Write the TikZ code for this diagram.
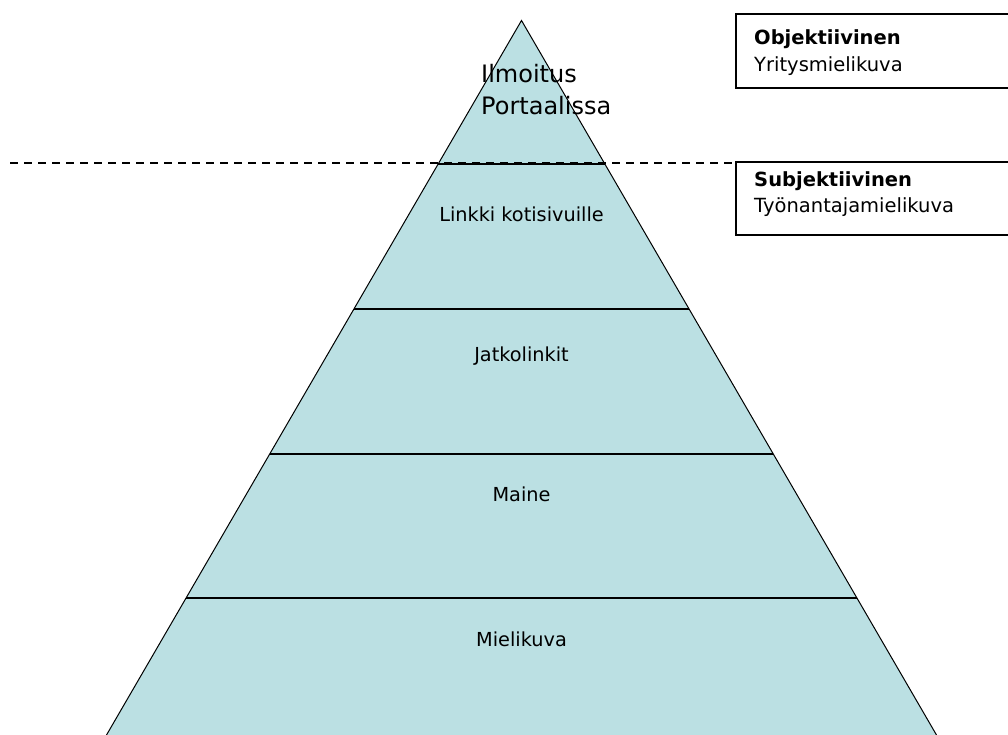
\documentclass[tikz,border=0pt]{standalone}
\usepackage{fontspec}
\setmainfont{DejaVu Sans}
\definecolor{pyrfill}{RGB}{187,224,227}
\tikzset{
  layer/.style={inner sep=0pt, anchor=base, font=\fontsize{19.3}{23}\selectfont},
  boxtext/.style={inner sep=0pt, anchor=base west, font=\fontsize{19.5}{23}\selectfont},
  infobox/.style={draw=black, line width=1.5pt},
}
\begin{document}
\begin{tikzpicture}[x=1pt,y=-1pt]
    \clip (0,0) rectangle (1008,735);
    % pyramid
    \coordinate (top) at (521.5,20.5);
    \coordinate (bl) at (106.5,735);
    \coordinate (br) at (936.5,735);
    \filldraw[fill=pyrfill, draw=black, line width=1pt] (bl) -- (top) -- (br);
    \begin{scope}
        \clip (bl) -- (top) -- (br) -- cycle;
        \foreach \y in {164,309,454,598}
            \draw[line width=1.4pt] (0,\y) -- (1008,\y);
    \end{scope}
    % levels
    \node[inner sep=0pt, anchor=base west, align=left,
          font=\fontsize{24}{32}\selectfont] (ilmo) at (481,115) {Ilmoitus\\Portaalissa};
    \node[layer] (linkki) at (521.5,221.7) {Linkki kotisivuille};
    \node[layer] (jatko) at (521.5,361.5) {Jatkolinkit};
    \node[layer] (maine) at (521.5,501.5) {Maine};
    \node[layer] (mieli) at (521.5,646.5) {Mielikuva};
    % side boxes
    \draw[infobox] (736,14) coordinate (obj) rectangle (1030,88);
    \draw[infobox] (736,162) coordinate (subj) rectangle (1030,235);
    \node[boxtext] (objt) at (754,45) {\textbf{Objektiivinen}};
    \node[boxtext] (yrit) at (754,72) {Yritysmielikuva};
    \node[boxtext] (subjt) at (754,187) {\textbf{Subjektiivinen}};
    \node[boxtext] (tyon) at (754,213) {Työnantajamielikuva};
    % dividing line
    \coordinate (dstart) at (10,163.5);
    \draw[dash pattern=on 8pt off 6pt, line width=2pt] (dstart) -- (dstart -| subj);
\end{tikzpicture}
\end{document}
